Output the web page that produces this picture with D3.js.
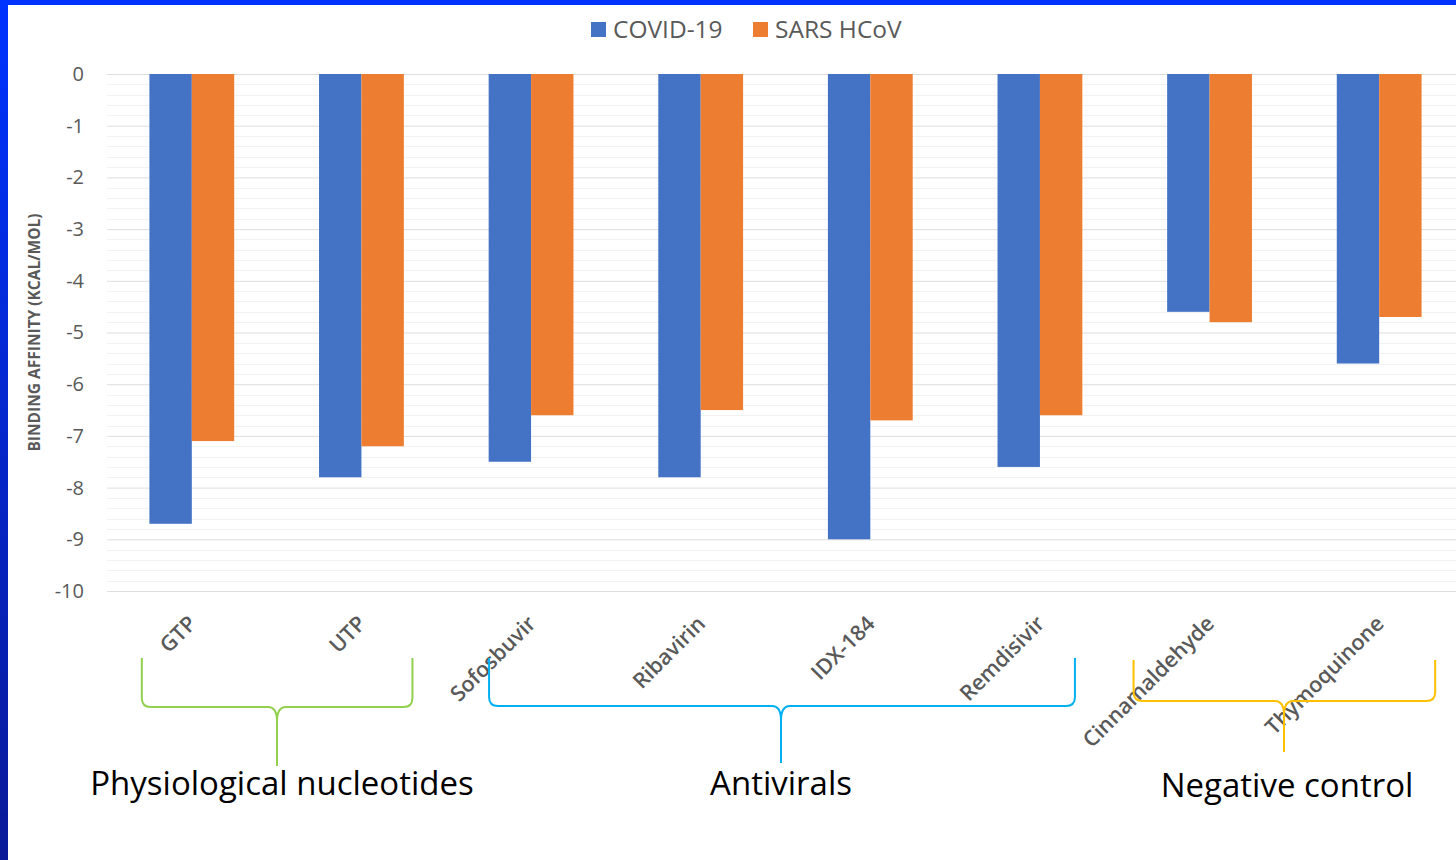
<!DOCTYPE html>
<html>
<head>
<meta charset="utf-8">
<script src="https://cdn.jsdelivr.net/npm/d3@7"></script>
<style>
  html, body { margin: 0; padding: 0; background: #ffffff; }
  svg { display: block; }
</style>
</head>
<body>
<svg id="chart" width="1456" height="860"></svg>
<script>
// Docking scores (kcal/mol) of each compound against the two polymerases
const compounds = ["GTP", "UTP", "Sofosbuvir", "Ribavirin", "IDX-184", "Remdisivir", "Cinnamaldehyde", "Thymoquinone"];
const seriesNames = ["COVID-19", "SARS HCoV"];
const covid19 = [-8.7, -7.8, -7.5, -7.8, -9.0, -7.6, -4.6, -5.6];
const sarsHCoV = [-7.1, -7.2, -6.6, -6.5, -6.7, -6.6, -4.8, -4.7];
const yTicks = [0, -1, -2, -3, -4, -5, -6, -7, -8, -9, -10];
const groupNames = ["Physiological nucleotides", "Antivirals", "Negative control"];
const groupFirst = ["GTP", "Sofosbuvir", "Cinnamaldehyde"];
const groupLast = ["UTP", "Remdisivir", "Thymoquinone"];

// ---- layout ----
const W = 1456, H = 860;
const plot = { left: 107, right: 1464, top: 74, bottom: 591 };
const colors = ["#4472C4", "#ED7D31"];
const braceColors = ["#92D050", "#00B0F0", "#FFC000"];
// brace geometry: offsets from the first/last band centres, and vertical levels
const braceLayout = [
  { dl: -50, dr: 51, tip: 277, yTop: 658, yMid: 707, yBot: 766, labelX: 282, labelY: 795 },
  { dl: -42, dr: 35, tip: 781, yTop: 658, yMid: 706, yBot: 763, labelX: 781, labelY: 795 },
  { dl: -76, dr: 56, tip: 1284, yTop: 660, yMid: 701, yBot: 752, labelX: 1287, labelY: 797 }
];

const svg = d3.select("#chart");

// frame: gradient blue strip on the left, bright blue strip on top
const defs = svg.append("defs");
const grad = defs.append("linearGradient").attr("id", "frameGrad")
  .attr("x1", 0).attr("y1", 0).attr("x2", 0).attr("y2", 1);
grad.append("stop").attr("offset", "0%").attr("stop-color", "#0033ff");
grad.append("stop").attr("offset", "100%").attr("stop-color", "#0a1a98");
svg.append("rect").attr("x", 0).attr("y", 0).attr("width", W).attr("height", H).attr("fill", "#ffffff");
svg.append("rect").attr("x", 0).attr("y", 0).attr("width", 8).attr("height", H).attr("fill", "url(#frameGrad)");
svg.append("rect").attr("x", 0).attr("y", 0).attr("width", W).attr("height", 5).attr("fill", "#0033ff");

// scales
const x0 = d3.scaleBand().domain(compounds).range([plot.left, plot.right]).paddingInner(0.5).paddingOuter(0.25);
const x1 = d3.scaleBand().domain(seriesNames).range([0, x0.bandwidth()]);
const y = d3.scaleLinear().domain([0, -10]).range([plot.top, plot.bottom]);

// minor gridlines every 0.2
const minor = d3.range(0, -10.0001, -0.2).filter(v => Math.abs(v - Math.round(v)) > 1e-6);
svg.append("g").selectAll("line").data(minor).join("line")
  .attr("x1", plot.left).attr("x2", W)
  .attr("y1", d => Math.round(y(d)) + 0.5).attr("y2", d => Math.round(y(d)) + 0.5)
  .attr("stroke", "#f2f2f2").attr("stroke-width", 1);

// y axis with major gridlines
const yAxis = d3.axisLeft(y).tickValues(yTicks).tickSize(-(W - plot.left)).tickPadding(23).tickFormat(d => String(d));
const gy = svg.append("g").attr("transform", `translate(${plot.left},0)`).call(yAxis);
gy.select(".domain").remove();
gy.selectAll(".tick line").attr("stroke", "#dedede").attr("stroke-width", 1);
gy.selectAll(".tick text")
  .attr("fill", "#595959").style("font-family", "'Open Sans', sans-serif").style("font-size", "20px");

// y axis title
svg.append("text")
  .attr("transform", `translate(40,${(plot.top + plot.bottom) / 2}) rotate(-90)`)
  .attr("text-anchor", "middle")
  .attr("fill", "#595959")
  .style("font-family", "'Open Sans', sans-serif").style("font-weight", 700).style("font-size", "15.5px")
  .text("BINDING AFFINITY (KCAL/MOL)");

// bars
const rows = compounds.map((c, i) => ({ c, vals: [covid19[i], sarsHCoV[i]] }));
const groups = svg.append("g").selectAll("g").data(rows).join("g")
  .attr("transform", d => `translate(${x0(d.c)},0)`);
groups.selectAll("rect").data(d => d.vals.map((v, k) => ({ k, v }))).join("rect")
  .attr("x", d => x1(seriesNames[d.k]))
  .attr("y", y(0))
  .attr("width", x1.bandwidth())
  .attr("height", d => y(d.v) - y(0))
  .attr("fill", d => colors[d.k]);

// category labels, rotated
const xAxis = d3.axisBottom(x0).tickSize(0).tickPadding(0);
const gx = svg.append("g").attr("transform", `translate(0,${plot.bottom})`).call(xAxis);
gx.select(".domain").remove();
gx.selectAll(".tick text")
  .attr("text-anchor", "end")
  .attr("dy", 0).attr("y", 0)
  .attr("transform", "translate(6,34) rotate(-45)")
  .attr("fill", "#595959")
  .style("font-family", "'Open Sans', sans-serif").style("font-weight", 600).style("font-size", "21.5px");

// legend
const legendItems = [{ name: seriesNames[0], x: 591 }, { name: seriesNames[1], x: 753 }];
const lg = svg.append("g").selectAll("g").data(legendItems).join("g")
  .attr("transform", d => `translate(${d.x},22)`);
lg.append("rect").attr("width", 15).attr("height", 15).attr("fill", (d, i) => colors[i]);
lg.append("text").attr("x", 22).attr("y", 16)
  .attr("fill", "#595959")
  .style("font-family", "'Open Sans', sans-serif").style("font-size", "24.5px")
  .text(d => d.name);

// group braces and labels
function bracePath(xl, xr, xm, yt, ym, yb) {
  const r = 9;
  return `M${xl},${yt} L${xl},${ym - r} Q${xl},${ym} ${xl + r},${ym} L${xm - r},${ym} Q${xm},${ym} ${xm},${ym + r * 1.6} L${xm},${yb}` +
         ` M${xr},${yt} L${xr},${ym - r} Q${xr},${ym} ${xr - r},${ym} L${xm + r},${ym} Q${xm},${ym} ${xm},${ym + r * 1.6}`;
}
const centre = c => x0(c) + x0.bandwidth() / 2;
const gb = svg.append("g").selectAll("g").data(groupNames.map((n, i) => ({ n, i }))).join("g");
gb.append("path")
  .attr("d", d => {
    const L = braceLayout[d.i];
    return bracePath(centre(groupFirst[d.i]) + L.dl, centre(groupLast[d.i]) + L.dr, L.tip, L.yTop, L.yMid, L.yBot);
  })
  .attr("fill", "none").attr("stroke", d => braceColors[d.i]).attr("stroke-width", 2);
gb.append("text")
  .attr("x", d => braceLayout[d.i].labelX).attr("y", d => braceLayout[d.i].labelY)
  .attr("text-anchor", "middle").attr("fill", "#000000")
  .style("font-family", "'Open Sans', sans-serif").style("font-size", "33px")
  .text(d => d.n);
</script>
</body>
</html>
